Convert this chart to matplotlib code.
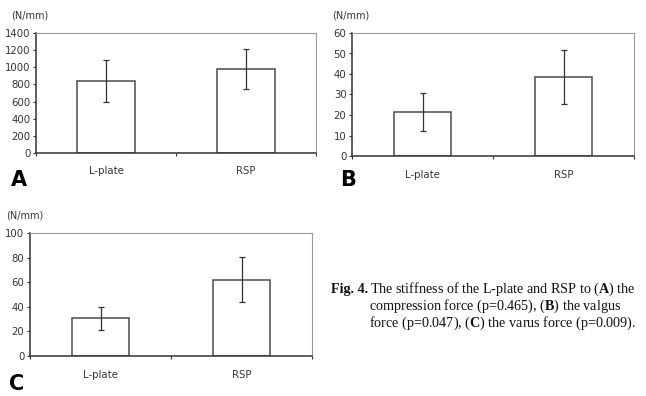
import matplotlib
matplotlib.use('Agg')
import matplotlib.pyplot as plt
import numpy as np

# ── Data ──────────────────────────────────────────────────────────────────────
categories = ['L-plate', 'RSP']

compression_mean = [840, 980]
compression_sd = [250, 230]

valgus_mean = [21.5, 38.5]
valgus_sd = [9.3, 13.0]

varus_mean = [30.5, 62.0]
varus_sd = [9.5, 18.5]

unit_label = '(N/mm)'

W, H = 646, 396
plt.rcParams['mathtext.fontset'] = 'custom'
plt.rcParams['mathtext.rm'] = 'Liberation Serif'
plt.rcParams['mathtext.bf'] = 'Liberation Serif:bold'

fig = plt.figure(figsize=(W / 100, H / 100), dpi=100)


def px_axes(left, top, right, bottom):
    return fig.add_axes([left / W, 1 - bottom / H, (right - left) / W, (bottom - top) / H])


def draw_panel(ax, means, sds, ymax, ystep, letter, letter_xy, unit_xy):
    x = np.arange(len(categories))
    ax.bar(x, means, width=0.41, color='white', edgecolor='#4a4a4a', linewidth=1.1)
    ax.errorbar(x, means, yerr=sds, fmt='none', ecolor='#333333',
                elinewidth=0.9, capsize=2.5, capthick=0.9)
    ax.set_xlim(-0.5, len(categories) - 0.5)
    ax.set_ylim(0, ymax)
    ax.set_yticks(np.arange(0, ymax + ystep / 2, ystep))
    ax.set_xticks(np.arange(-0.5, len(categories)))
    ax.set_xticklabels([])
    for xi, cat in zip(x, categories):
        ax.text(xi, -0.11, cat, transform=ax.get_xaxis_transform(),
                ha='center', va='top', fontsize=7.3, color='#333333')
    ax.tick_params(axis='y', direction='out', length=2.5, width=0.8,
                   labelsize=7.3, colors='#333333', pad=1.5)
    ax.tick_params(axis='x', direction='out', length=2.5, width=0.8, colors='#333333')
    for side in ['left', 'bottom']:
        ax.spines[side].set_color('#333333')
        ax.spines[side].set_linewidth(1.1)
    for side in ['top', 'right']:
        ax.spines[side].set_color('#9a9a9a')
        ax.spines[side].set_linewidth(0.8)
    fig.text(unit_xy[0] / W, 1 - unit_xy[1] / H, unit_label, fontsize=7,
             color='#333333', ha='left', va='center')
    fig.text(letter_xy[0] / W, 1 - letter_xy[1] / H, letter, fontsize=15,
             fontweight='bold', ha='left', va='bottom', color='black')


axA = px_axes(36, 33, 316, 153)
draw_panel(axA, compression_mean, compression_sd, 1400, 200, 'A', (11, 190), (11, 15))

axB = px_axes(352, 33, 634, 156)
draw_panel(axB, valgus_mean, valgus_sd, 60, 10, 'B', (340, 190), (332, 16))

axC = px_axes(30, 233, 312, 356)
draw_panel(axC, varus_mean, varus_sd, 100, 20, 'C', (9, 394), (6, 216))

# ── Caption ───────────────────────────────────────────────────────────────────
cap_kw = dict(fontsize=10.2, family='Liberation Serif', va='baseline', ha='left', color='#111111')
fig.text(331 / W, 1 - 293 / H, 'Fig. 4.', fontweight='bold', **cap_kw)
fig.text(370 / W, 1 - 293 / H, r'The stiffness of the L-plate and RSP to ($\mathbf{A}$) the', **cap_kw)
fig.text(369 / W, 1 - 310 / H, r'compression force (p=0.465), ($\mathbf{B}$) the valgus', **cap_kw)
fig.text(369 / W, 1 - 327 / H, r'force (p=0.047), ($\mathbf{C}$) the varus force (p=0.009).', **cap_kw)

fig.savefig('out.png', dpi=100)
